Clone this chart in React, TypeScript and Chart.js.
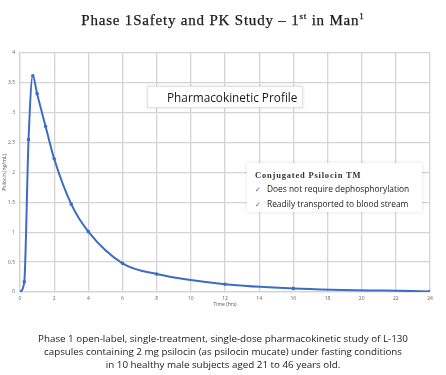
import React, { useEffect, useRef } from "react";
import { Chart, registerables } from "chart.js";

Chart.register(...registerables);

const times = [0, 0.25, 0.5, 0.75, 1, 1.5, 2, 3, 4, 6, 8, 12, 16, 24];
const conc = [0, 0.17, 2.55, 3.62, 3.32, 2.77, 2.23, 1.47, 1.01, 0.48, 0.3, 0.13, 0.06, 0.01];
const xTicks = [0, 2, 4, 6, 8, 10, 12, 14, 16, 18, 20, 22, 24];
const yTicks = [0, 0.5, 1, 1.5, 2, 2.5, 3, 3.5, 4];

const titleMain = "Phase 1Safety and PK Study \u2013 1";
const boxTitle = "Pharmacokinetic Profile";
const legendTitle = "Conjugated Psilocin TM";
const legendItems = ["Does not require dephosphorylation", "Readily transported to blood stream"];
const footer = [
  "Phase 1 open-label, single-treatment, single-dose pharmacokinetic study of L-130",
  "capsules containing 2 mg psilocin (as psilocin mucate) under fasting conditions",
  "in 10 healthy male subjects aged 21 to 46 years old.",
];

export default function App() {
  const ref = useRef<HTMLCanvasElement>(null);
  useEffect(() => {
    document.body.style.margin = "0";
    const ctx = ref.current!;
    const chart = new Chart(ctx, {
      type: "line",
      data: {
        datasets: [
          {
            data: times.map((t, i) => ({ x: t, y: conc[i] })),
            borderColor: "#3d6cc4",
            backgroundColor: "#3d6cc4",
            borderWidth: 2,
            pointRadius: 0.8,
            pointHoverRadius: 0.8,
            cubicInterpolationMode: "monotone",
            fill: false,
          },
        ],
      },
      options: {
        animation: false,
        responsive: false,
        maintainAspectRatio: false,
        events: [],
        layout: { padding: { top: 53, right: 16, bottom: 63, left: 0 } },
        plugins: { legend: { display: false }, tooltip: { enabled: false } },
        scales: {
          x: {
            type: "linear",
            min: 0,
            max: 24,
            afterBuildTicks: (s: any) => {
              s.ticks = xTicks.map((v) => ({ value: v }));
            },
            afterFit: (s: any) => {
              s.height = 20;
            },
            grid: { color: "#d4d4d4", lineWidth: 1.3, drawTicks: false },
            border: { color: "#d4d4d4", width: 1.3 },
            ticks: { font: { size: 5, family: "Open Sans" }, color: "#666", padding: 4, autoSkip: false, maxRotation: 0, callback: (v: any) => String(v) },
            title: { display: true, text: "Time (hrs)", font: { size: 5, family: "Open Sans" }, color: "#555", padding: { top: 0, bottom: 4 } },
          },
          y: {
            min: 0,
            max: 4,
            afterBuildTicks: (s: any) => {
              s.ticks = yTicks.map((v) => ({ value: v }));
            },
            afterFit: (s: any) => {
              s.width = 20;
            },
            grid: { color: "#d4d4d4", lineWidth: 1.3, drawTicks: false },
            border: { color: "#d4d4d4", width: 1.3 },
            ticks: { font: { size: 5, family: "Open Sans" }, color: "#666", padding: 5, callback: (v: any) => String(v) },
            title: { display: true, text: "Psilocin (ng/mL)", font: { size: 5, family: "Open Sans" }, color: "#555", padding: { top: 2, bottom: 0 } },
          },
        },
      },
    });
    return () => chart.destroy();
  }, []);

  const sans = "'Open Sans', 'Noto Sans', sans-serif";
  return (
    <div style={{ position: "absolute", left: 0, top: 0, width: 446, height: 375, background: "#fff", overflow: "hidden" }}>
      <canvas ref={ref} width={446} height={375} style={{ position: "absolute", left: 0, top: 0, width: 446, height: 375 }} />
      <div
        style={{
          position: "absolute",
          left: 0,
          width: 446,
          top: 11,
          textAlign: "center",
          fontFamily: "'Liberation Serif', serif",
          fontSize: 15,
          letterSpacing: 0.8,
          color: "#1a1a1a",
          whiteSpace: "nowrap",
          WebkitTextStroke: "0.25px #1a1a1a",
        }}
      >
        {titleMain}
        <sup style={{ fontSize: 9 }}>st</sup> in Man<sup style={{ fontSize: 9 }}>1</sup>
      </div>
      <div
        style={{
          position: "absolute",
          left: 147,
          top: 86,
          width: 156,
          height: 22,
          background: "#fff",
          border: "1px solid #e2e2e2",
          boxShadow: "0 0 3px rgba(0,0,0,0.12)",
          boxSizing: "border-box",
          fontFamily: sans,
          fontWeight: 500,
          fontSize: 11.8,
          color: "#1a1a1a",
          lineHeight: "20px",
          paddingLeft: 19,
          whiteSpace: "nowrap",
        }}
      >
        {boxTitle}
      </div>
      <div
        style={{
          position: "absolute",
          left: 247,
          top: 163,
          width: 175,
          height: 49,
          background: "#fff",
          boxShadow: "0 0 4px rgba(0,0,0,0.12)",
          boxSizing: "border-box",
          paddingLeft: 8,
          paddingTop: 6,
          whiteSpace: "nowrap",
        }}
      >
        <div style={{ fontFamily: "'Liberation Serif', serif", fontWeight: "bold", fontSize: 8.5, letterSpacing: 0.8, color: "#333", lineHeight: "12px" }}>
          {legendTitle}
        </div>
        {legendItems.map((t, i) => (
          <div key={i} style={{ fontFamily: sans, fontWeight: 500, fontSize: 8.4, color: "#1a1a1a", lineHeight: "14px", marginTop: i === 0 ? 1 : 0 }}>
            <span style={{ color: "#3d6cc4", display: "inline-block", width: 12, fontSize: 7 }}>{"\u2713"}</span>
            {t}
          </div>
        ))}
      </div>
      <div
        style={{
          position: "absolute",
          left: 0,
          width: 446,
          top: 332,
          textAlign: "center",
          fontFamily: sans,
          fontWeight: 500,
          fontSize: 9.8,
          color: "#1a1a1a",
          lineHeight: "13px",
          whiteSpace: "nowrap",
        }}
      >
        {footer.map((l, i) => (
          <div key={i}>{l}</div>
        ))}
      </div>
    </div>
  );
}
